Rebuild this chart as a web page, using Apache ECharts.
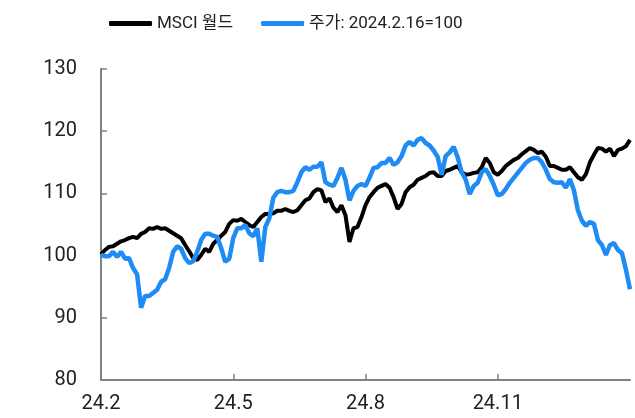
<!DOCTYPE html>
<html>
<head>
<meta charset="utf-8">
<script src="https://cdn.jsdelivr.net/npm/echarts@6/dist/echarts.min.js"></script>
<style>
  html, body { margin: 0; padding: 0; background: #fff; }
  #chart { width: 635px; height: 418px; }
</style>
</head>
<body>
<div id="chart"></div>
<script>
// roughly every 2 trading days from 2024-02-16, label every 33 points (one quarter)
const tickEvery = 33
const tickLabels = ['24.2', '24.5', '24.8', '24.11']

const msciWorld = [
  100.2, 100.9, 101.4, 101.5, 101.9, 102.3, 102.5, 102.8, 103.0, 102.8,
  103.5, 103.8, 104.4, 104.3, 104.6, 104.3, 104.4, 104.0, 103.6, 103.2,
  102.8, 101.7, 100.7, 99.6, 99.3, 100.1, 101.1, 100.6, 101.9, 102.5,
  103.2, 103.8, 105.1, 105.7, 105.6, 105.9, 105.4, 104.9, 104.6, 105.4,
  106.2, 106.7, 106.7, 106.8, 107.2, 107.2, 107.5, 107.2, 107.0, 107.3,
  108.1, 108.9, 109.2, 110.2, 110.7, 110.5, 108.6, 109.2, 107.7, 107.0,
  108.1, 106.5, 102.2, 104.4, 104.6, 106.2, 108.1, 109.4, 110.2, 110.9,
  111.2, 111.5, 110.9, 109.4, 107.5, 108.3, 110.2, 111.0, 111.4, 112.2,
  112.5, 112.8, 113.3, 113.4, 112.8, 112.8, 113.6, 113.8, 114.1, 114.4,
  113.4, 113.0, 113.1, 113.3, 113.4, 114.2, 115.7, 114.9, 113.4, 113.0,
  113.6, 114.4, 114.9, 115.4, 115.7, 116.3, 116.8, 117.3, 117.0, 116.5,
  116.7, 115.9, 114.4, 114.4, 114.1, 113.8, 113.8, 114.2, 113.4, 112.6,
  112.2, 113.1, 115.0, 116.2, 117.3, 117.2, 116.7, 117.2, 116.0, 117.0,
  117.2, 117.6, 118.6
]

const stockPrice = [
  100.1, 99.9, 99.9, 100.6, 99.8, 100.6, 99.5, 99.6, 98.0, 97.0,
  91.6, 93.5, 93.5, 94.0, 94.5, 95.8, 96.2, 98.0, 100.6, 101.5,
  101.1, 99.6, 98.8, 99.1, 100.6, 102.5, 103.5, 103.5, 103.2, 103.0,
  101.2, 99.0, 99.5, 102.8, 104.4, 104.4, 104.9, 103.6, 103.1, 104.4,
  99.0, 104.6, 106.0, 109.3, 110.2, 110.4, 110.2, 110.2, 110.4, 111.8,
  113.4, 114.2, 113.8, 114.3, 114.3, 115.0, 111.8, 111.4, 111.2, 112.5,
  114.1, 112.2, 108.9, 110.4, 111.2, 111.5, 111.2, 112.5, 114.1, 114.2,
  114.9, 114.9, 115.7, 114.6, 115.0, 116.0, 117.7, 118.3, 117.7, 118.6,
  118.9, 118.1, 117.7, 116.9, 115.9, 113.0, 116.0, 116.6, 117.5, 115.8,
  113.4, 112.2, 109.9, 111.2, 111.7, 113.4, 113.9, 112.8, 111.4, 109.7,
  109.9, 110.7, 111.7, 112.5, 113.3, 114.1, 114.9, 115.4, 115.7, 115.7,
  115.0, 113.8, 112.3, 111.8, 111.7, 111.8, 110.9, 112.3, 110.5, 107.3,
  105.6, 104.8, 105.4, 105.1, 102.5, 101.7, 100.1, 101.7, 102.0, 100.9,
  100.4, 97.7, 94.6
]

const categories = msciWorld.map((_, i) => String(i))
const isTick = (idx) => idx % tickEvery === 0 && idx / tickEvery < tickLabels.length

const chart = echarts.init(document.getElementById('chart'))

chart.setOption({
  animation: false,
  backgroundColor: '#fff',
  textStyle: { fontFamily: 'Roboto, "Noto Sans CJK KR", sans-serif' },
  legend: {
    data: ['MSCI 월드', '주가: 2024.2.16=100'],
    left: 104,
    top: 10,
    icon: 'roundRect',
    itemWidth: 43,
    itemHeight: 5,
    itemGap: 28,
    textStyle: {
      fontSize: 17,
      color: '#222',
      fontFamily: 'Roboto, "Noto Sans CJK KR", sans-serif'
    }
  },
  grid: { left: 101, right: 5, top: 69, bottom: 38, containLabel: false },
  xAxis: {
    type: 'category',
    data: categories,
    boundaryGap: false,
    axisLine: { lineStyle: { color: '#808080', width: 2 } },
    axisTick: { inside: true, length: 6, interval: (idx) => isTick(idx), lineStyle: { color: '#808080', width: 1.5 } },
    axisLabel: {
      interval: (idx) => isTick(idx),
      formatter: (v, idx) => tickLabels[idx / tickEvery] || '',
      color: '#222',
      fontSize: 20,
      margin: 14
    },
    splitLine: { show: false }
  },
  yAxis: {
    type: 'value',
    min: 80,
    max: 130,
    interval: 10,
    axisLine: { show: true, lineStyle: { color: '#808080', width: 2 } },
    axisTick: { show: true, inside: true, length: 6, lineStyle: { color: '#808080', width: 1.5 } },
    axisLabel: { color: '#222', fontSize: 20, margin: 24 },
    splitLine: { show: false }
  },
  series: [
    {
      name: 'MSCI 월드',
      type: 'line',
      data: msciWorld,
      symbol: 'none',
      lineStyle: { color: '#000', width: 4 },
      itemStyle: { color: '#000' },
      z: 2
    },
    {
      name: '주가: 2024.2.16=100',
      type: 'line',
      data: stockPrice,
      symbol: 'none',
      lineStyle: { color: '#1f8cf5', width: 4.5 },
      itemStyle: { color: '#1f8cf5' },
      z: 3
    }
  ]
})
</script>
</body>
</html>
